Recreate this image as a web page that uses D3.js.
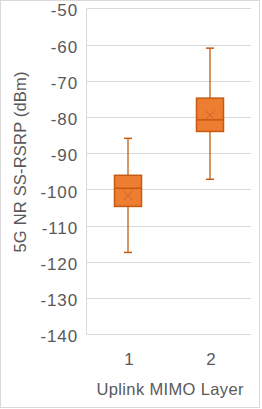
<!DOCTYPE html>
<html>
<head>
<meta charset="utf-8">
<script src="https://cdn.jsdelivr.net/npm/d3@7"></script>
<style>
html,body{margin:0;padding:0;background:#fff;}
svg{display:block;}
text{font-family:"Liberation Sans",Arial,sans-serif;fill:#595959;}
</style>
</head>
<body>
<svg id="chart" width="262" height="409"></svg>
<script>
const categories = ["1", "2"];
const whiskerMin = [-117.4, -97.2];
const q1Values = [-104.7, -84.0];
const medianValues = [-99.7, -80.8];
const q3Values = [-96.1, -74.8];
const whiskerMax = [-85.9, -61.0];
const meanValues = [-101.7, -79.5];
const yTicks = [-140, -130, -120, -110, -100, -90, -80, -70, -60, -50];
const yTitle = "5G NR SS-RSRP (dBm)";
const xTitle = "Uplink MIMO Layer";

const data = categories.map((c, i) => ({
  cat: c, min: whiskerMin[i], q1: q1Values[i], med: medianValues[i],
  q3: q3Values[i], max: whiskerMax[i], mean: meanValues[i]
}));

const svg = d3.select("#chart");
const plotL = 87, plotR = 251, plotT = 8.3, plotB = 334.3;

const y = d3.scaleLinear().domain([-140, -50]).range([plotB, plotT]);
const x = d3.scaleBand().domain(categories).range([plotL, plotR]).padding(0);

// chart border
svg.append("rect").attr("x", 0.5).attr("y", 0.5).attr("width", 259).attr("height", 407)
  .attr("fill", "#fff").attr("stroke", "#d9d9d9").attr("stroke-width", 1);

// gridlines
svg.append("g").selectAll("line").data(yTicks).join("line")
  .attr("x1", plotL).attr("x2", plotR)
  .attr("y1", d => Math.round(y(d)) + 0.5).attr("y2", d => Math.round(y(d)) + 0.5)
  .attr("stroke", "#d9d9d9").attr("stroke-width", 1);

// left axis line
svg.append("line").attr("x1", plotL - 0.5).attr("x2", plotL - 0.5)
  .attr("y1", Math.round(y(-50)) + 0.5).attr("y2", Math.round(y(-140)) + 0.5)
  .attr("stroke", "#d9d9d9").attr("stroke-width", 1);

// y axis labels
const yAxis = d3.axisLeft(y).tickValues(yTicks).tickSize(0).tickPadding(0).tickFormat(d3.format("d"));
const gy = svg.append("g").attr("transform", `translate(78,0)`).call(yAxis);
gy.select(".domain").remove();
gy.selectAll("text").attr("font-size", 17).attr("fill", "#595959")
  .attr("font-family", "Liberation Sans, Arial, sans-serif")
  .attr("dy", "0.45em").attr("letter-spacing", "0.9px")
  .text(d => d3.format("d")(d).replace("\u2212", "-"));

// x axis labels
const xAxis = d3.axisBottom(x).tickSize(0).tickPadding(0);
const gx = svg.append("g").attr("transform", `translate(1,353)`).call(xAxis);
gx.select(".domain").remove();
gx.selectAll("text").attr("font-size", 17).attr("fill", "#595959")
  .attr("font-family", "Liberation Sans, Arial, sans-serif");

// axis titles
svg.append("text").attr("transform", `translate(25.5,162) rotate(-90)`)
  .attr("text-anchor", "middle").attr("font-size", 16.5)
  .attr("textLength", 181).attr("lengthAdjust", "spacing")
  .text(yTitle);
svg.append("text").attr("x", 170).attr("y", 395)
  .attr("text-anchor", "middle").attr("font-size", 16.5)
  .attr("textLength", 147).attr("lengthAdjust", "spacing")
  .text(xTitle);

// boxes
const boxW = 27;
const capW = 8;
const stroke = "#c55a11";
const g = svg.append("g");
const groups = g.selectAll("g.box").data(data).join("g").attr("class", "box");

groups.append("line")
  .attr("x1", d => x(d.cat) + x.bandwidth() / 2).attr("x2", d => x(d.cat) + x.bandwidth() / 2)
  .attr("y1", d => y(d.max)).attr("y2", d => y(d.min))
  .attr("stroke", stroke).attr("stroke-width", 1.3);
groups.append("line")
  .attr("x1", d => x(d.cat) + x.bandwidth() / 2 - capW / 2).attr("x2", d => x(d.cat) + x.bandwidth() / 2 + capW / 2)
  .attr("y1", d => y(d.max)).attr("y2", d => y(d.max))
  .attr("stroke", stroke).attr("stroke-width", 1.5);
groups.append("line")
  .attr("x1", d => x(d.cat) + x.bandwidth() / 2 - capW / 2).attr("x2", d => x(d.cat) + x.bandwidth() / 2 + capW / 2)
  .attr("y1", d => y(d.min)).attr("y2", d => y(d.min))
  .attr("stroke", stroke).attr("stroke-width", 1.5);
groups.append("rect")
  .attr("x", d => x(d.cat) + x.bandwidth() / 2 - boxW / 2)
  .attr("y", d => y(d.q3))
  .attr("width", boxW)
  .attr("height", d => y(d.q1) - y(d.q3))
  .attr("fill", "#ed7d31").attr("stroke", stroke).attr("stroke-width", 1.5);
groups.append("line")
  .attr("x1", d => x(d.cat) + x.bandwidth() / 2 - boxW / 2).attr("x2", d => x(d.cat) + x.bandwidth() / 2 + boxW / 2)
  .attr("y1", d => y(d.med)).attr("y2", d => y(d.med))
  .attr("stroke", stroke).attr("stroke-width", 1.5);
// mean markers (x)
const ms = 4.5;
groups.append("path")
  .attr("d", d => {
    const cx = x(d.cat) + x.bandwidth() / 2, cy = y(d.mean);
    return `M${cx - ms},${cy - ms}L${cx + ms},${cy + ms}M${cx - ms},${cy + ms}L${cx + ms},${cy - ms}`;
  })
  .attr("stroke", "#c0602a").attr("stroke-opacity", 0.8).attr("stroke-width", 1).attr("fill", "none");
</script>
</body>
</html>
